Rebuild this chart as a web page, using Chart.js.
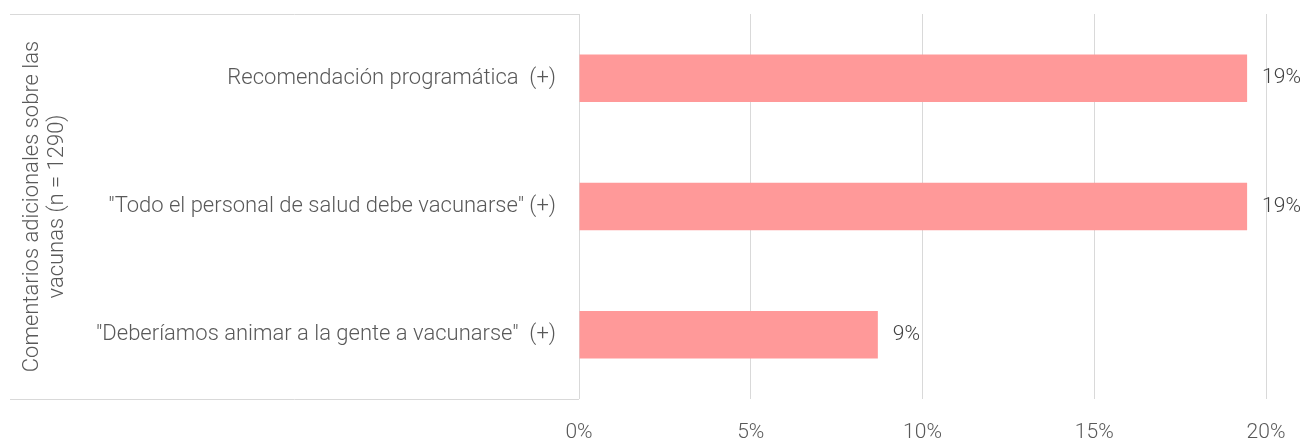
<!DOCTYPE html>
<html>
<head>
<meta charset="utf-8">
<script src="https://cdn.jsdelivr.net/npm/chart.js@4.4.0/dist/chart.umd.min.js"></script>
<style>
  html, body { margin: 0; padding: 0; background: #fff; }
  #wrap { width: 1302px; height: 441px; position: relative; }
</style>
</head>
<body>
<div id="wrap"><canvas id="grafico"></canvas></div>
<script>
// datos
const categorias = [
  'Recomendación programática  (+)',
  '"Todo el personal de salud debe vacunarse" (+)',
  '"Deberíamos animar a la gente a vacunarse"  (+)'
];
const valores = [19.45, 19.45, 8.7];
const etiquetas = ['19%', '19%', '9%'];
const tituloEjeY = ['Comentarios adicionales sobre las', 'vacunas (n = 1290)'];

const gris = '#d9d9d9';
const textoGris = '#595959';
const fuente = 'Roboto';

// caja alrededor de las etiquetas del eje Y
const cajaEje = {
  id: 'cajaEje',
  beforeDatasetsDraw(chart) {
    const { ctx, chartArea } = chart;
    ctx.save();
    ctx.strokeStyle = gris;
    ctx.lineWidth = 1;
    ctx.beginPath();
    ctx.moveTo(10, chartArea.top + 0.5);
    ctx.lineTo(chartArea.left, chartArea.top + 0.5);
    ctx.moveTo(10, chartArea.bottom + 0.5);
    ctx.lineTo(chartArea.left, chartArea.bottom + 0.5);
    ctx.stroke();
    ctx.restore();
  }
};

// etiquetas de valor al final de cada barra
const etiquetasValor = {
  id: 'etiquetasValor',
  afterDatasetsDraw(chart) {
    const { ctx } = chart;
    const meta = chart.getDatasetMeta(0);
    ctx.save();
    ctx.font = '300 21px ' + fuente;
    ctx.fillStyle = '#404040';
    ctx.textAlign = 'left';
    ctx.textBaseline = 'middle';
    meta.data.forEach((bar, i) => {
      ctx.fillText(etiquetas[i], bar.x + 15, bar.y);
    });
    ctx.restore();
  }
};

const ctx = document.getElementById('grafico').getContext('2d');
new Chart(ctx, {
  type: 'bar',
  data: {
    labels: categorias,
    datasets: [{
      data: valores,
      backgroundColor: '#ff9999',
      borderWidth: 0,
      barPercentage: 0.37,
      categoryPercentage: 1
    }]
  },
  options: {
    indexAxis: 'y',
    responsive: true,
    maintainAspectRatio: false,
    animation: false,
    layout: { padding: { left: 10, top: 14, right: 36, bottom: 0 } },
    plugins: {
      legend: { display: false },
      tooltip: { enabled: false }
    },
    scales: {
      x: {
        min: 0,
        max: 20,
        ticks: {
          stepSize: 5,
          padding: 21,
          color: textoGris,
          font: { family: fuente, size: 21, weight: '300' },
          callback: v => v + '%'
        },
        grid: { color: gris, drawTicks: false },
        border: { display: false },
        afterFit(scale) {
          scale.height = 42;
          scale.paddingLeft = 0;
          scale.paddingRight = 0;
        }
      },
      y: {
        ticks: {
          padding: 23,
          color: textoGris,
          font: { family: fuente, size: 22, weight: '300' }
        },
        grid: { display: false, drawTicks: false },
        border: { display: false },
        title: {
          display: true,
          text: tituloEjeY,
          color: textoGris,
          font: { family: fuente, size: 22, weight: '300', lineHeight: 1.14 },
          padding: { top: 10, bottom: 0 }
        },
        afterFit(scale) {
          scale.width = 569;
          scale.paddingTop = 0;
          scale.paddingBottom = 0;
        }
      }
    }
  },
  plugins: [cajaEje, etiquetasValor]
});
</script>
</body>
</html>
